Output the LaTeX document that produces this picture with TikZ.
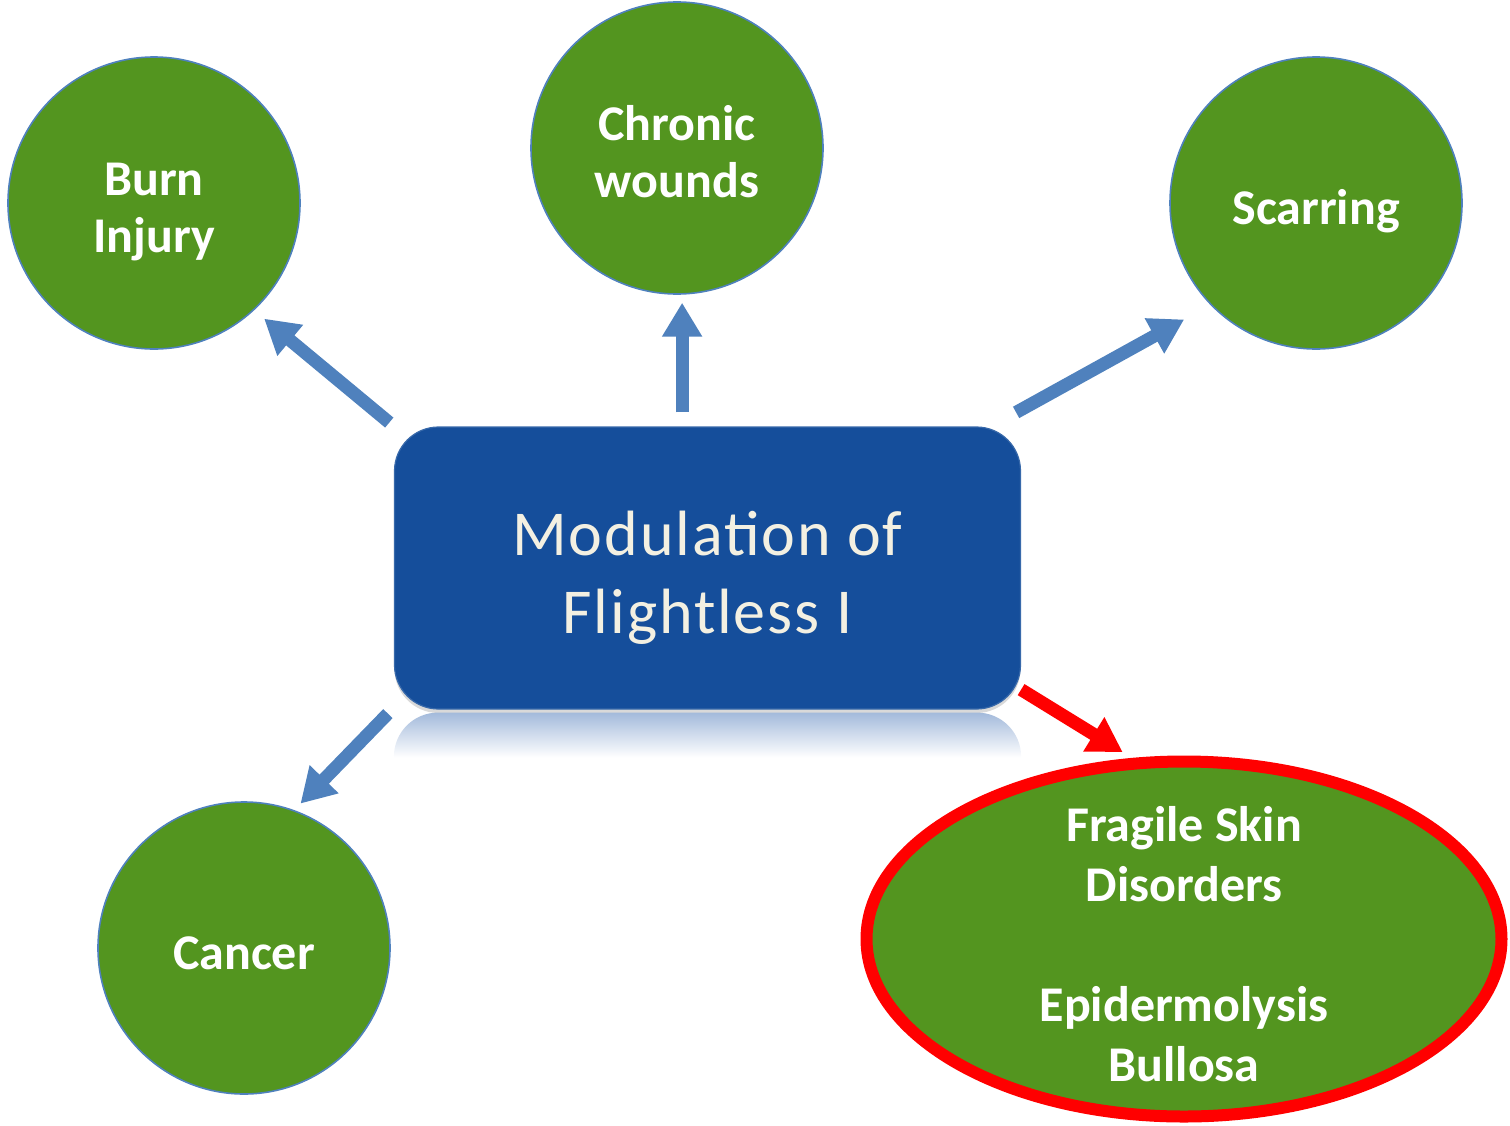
\documentclass[tikz,border=0pt]{standalone}
\usepackage{fontspec}
\setmainfont{Carlito}
\newfontfamily\boxfont[LetterSpace=3]{Carlito}
\usetikzlibrary{arrows.meta,shapes.geometric,shadows}

\definecolor{leafgreen}{HTML}{53951F}
\definecolor{boxblue}{HTML}{154E9B}
\definecolor{arrowblue}{HTML}{4F81BD}
\definecolor{cream}{HTML}{F3F0E2}
\definecolor{reflectblue}{HTML}{A3BADB}
\pgfdeclareverticalshading{fade}{100bp}{color(0bp)=(white); color(25bp)=(white);
  color(50bp)=(white); color(75bp)=(reflectblue); color(100bp)=(reflectblue)}

\begin{document}
\begin{tikzpicture}[x=0.5pt,y=-0.5pt,
  leaftext/.style={text=white,align=center,text depth=0pt,text height=21.8pt,
    font=\fontsize{25pt}{28.5pt}\selectfont\bfseries},
  twolines/.style={text height=49.3pt},
  disease/.style={circle,fill=leafgreen,draw=arrowblue,line width=0.8pt,
    minimum size=146pt,inner sep=0pt,leaftext},
  centre/.style={rectangle,rounded corners=22pt,fill=boxblue,
    draw=boxblue!85!white,line width=0.6pt,
    minimum width=313pt,minimum height=141pt,text=cream,align=center,
    text depth=0pt,text height=65.2pt,font=\boxfont\fontsize{32pt}{39pt}\selectfont,
    drop shadow={shadow xshift=0pt,shadow yshift=-2pt,opacity=.3}},
  arr/.style={draw=arrowblue,line width=6.5pt,-{Triangle[length=17pt,width=19pt]}},
  redarr/.style={arr,draw=red},
]
\useasboundingbox (0,0) rectangle (1510,1125);

% centre box and its reflection
\node[centre] (flii) at (707.5,568) {Modulation of\\Flightless I};
\shade[rounded corners=22pt,shading=fade]
  ([yshift=-1.5pt]flii.south west) rectangle ([yshift=-46.5pt]flii.south east);

% outcomes
\node[disease,twolines] (burn)    at (154,203)  {Burn\\Injury};
\node[disease,twolines] (chronic) at (677,148)  {Chronic\\wounds};
\node[disease] (scar)    at (1316,203) {Scarring};
\node[disease] (cancer)  at (244,948)  {Cancer};
\node[ellipse,fill=leafgreen,draw=red,line width=6pt,
  minimum width=317.5pt,minimum height=177.5pt,inner sep=0pt] (fsd) at (1184,939) {};
\node[leaftext,text height=142.6pt,font=\fontsize{25pt}{30pt}\selectfont\bfseries]
  (fsdtext) at (fsd.center) {Fragile Skin\\Disorders\\[30pt]Epidermolysis\\Bullosa};

% arrows
\draw[arr,shorten <=3pt,shorten >=6.5pt] (flii.north west) -- (burn.-47);
\draw[arr,shorten <=7pt,shorten >=4pt] (flii.north -| chronic.-88) -- (chronic.-88);
\draw[arr,shorten >=15pt] ([xshift=-2.5pt,yshift=7pt]flii.north east) -- (scar.-136);
\draw[arr,shorten >=4.5pt] ([xshift=-3pt,yshift=-2pt]flii.south west) -- (cancer.70);
\draw[redarr,shorten >=5.5pt] ([yshift=10pt]flii.south east) -- (fsd.106);
\end{tikzpicture}
\end{document}
